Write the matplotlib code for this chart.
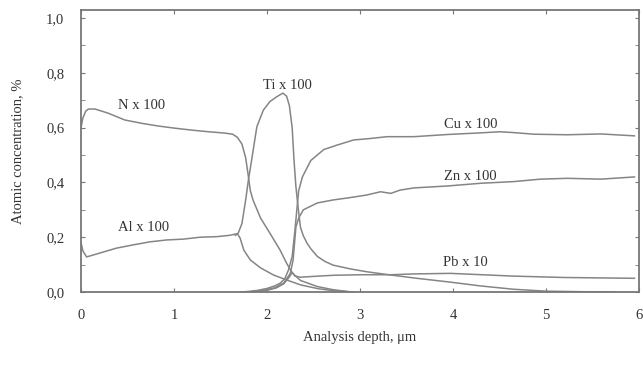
import matplotlib
matplotlib.use("Agg")
import matplotlib.pyplot as plt
from matplotlib.ticker import MultipleLocator, FuncFormatter

# Depth profiles (x in um, y in %)
n_x = [0, 0.02, 0.05, 0.08, 0.15, 0.29, 0.47, 0.65, 0.83, 1.01, 1.19, 1.37, 1.55, 1.63, 1.68,
       1.73, 1.77, 1.8, 1.82, 1.85, 1.93, 2.03, 2.14, 2.21, 2.27, 2.36, 2.54, 2.7, 2.9]
n_y = [0.6, 0.635, 0.66, 0.668, 0.668, 0.653, 0.628, 0.616, 0.606, 0.598, 0.591, 0.585, 0.58, 0.576, 0.565,
       0.54, 0.49, 0.42, 0.37, 0.335, 0.27, 0.215, 0.153, 0.105, 0.07, 0.042, 0.02, 0.009, 0.0]

al_x = [0, 0.02, 0.06, 0.2, 0.38, 0.56, 0.74, 0.92, 1.1, 1.28, 1.46, 1.6, 1.68, 1.71, 1.75,
        1.82, 1.93, 2.07, 2.21, 2.36, 2.55, 2.71, 2.93]
al_y = [0.18, 0.15, 0.128, 0.142, 0.16, 0.172, 0.183, 0.19, 0.193, 0.2, 0.202, 0.207, 0.213, 0.197, 0.153,
        0.117, 0.088, 0.062, 0.044, 0.026, 0.012, 0.005, 0.0]

ti_x = [1.66, 1.69, 1.73, 1.77, 1.8, 1.84, 1.89, 1.96, 2.03, 2.1, 2.17, 2.21, 2.24, 2.27, 2.29,
        2.31, 2.34, 2.36, 2.39, 2.43, 2.47, 2.54, 2.62, 2.71, 2.9, 3.07, 3.33, 3.61, 3.97, 4.3,
        4.65, 5.0, 5.4, 5.74]
ti_y = [0.207, 0.215, 0.25, 0.336, 0.41, 0.494, 0.603, 0.664, 0.695, 0.712, 0.726, 0.715, 0.68, 0.6, 0.48,
        0.385, 0.29, 0.235, 0.205, 0.178, 0.158, 0.13, 0.112, 0.098, 0.084, 0.074, 0.062, 0.05, 0.036, 0.022,
        0.01, 0.003, 0.001, 0.0]

cu_x = [1.72, 1.8, 1.9, 2.0, 2.08, 2.14, 2.19, 2.23, 2.27, 2.3, 2.32, 2.34, 2.38, 2.47, 2.61,
        2.75, 2.93, 3.1, 3.29, 3.58, 3.94, 4.3, 4.5, 4.65, 4.87, 5.23, 5.59, 5.95]
cu_y = [0.0, 0.002, 0.006, 0.013, 0.022, 0.032, 0.048, 0.08, 0.13, 0.226, 0.3, 0.37, 0.42, 0.48, 0.52,
        0.536, 0.555, 0.56, 0.567, 0.567, 0.575, 0.581, 0.585, 0.582, 0.576, 0.574, 0.577, 0.57]

zn_x = [1.8, 1.95, 2.08, 2.18, 2.25, 2.28, 2.31, 2.34, 2.39, 2.54, 2.71, 2.9, 3.07, 3.22, 3.33,
        3.43, 3.58, 3.94, 4.3, 4.65, 4.94, 5.23, 5.59, 5.95]
zn_y = [0.0, 0.006, 0.015, 0.033, 0.068, 0.117, 0.237, 0.27, 0.3, 0.325, 0.336, 0.345, 0.354, 0.366, 0.36,
        0.372, 0.38, 0.387, 0.397, 0.403, 0.412, 0.415, 0.412, 0.42]

pb_x = [1.85, 2.0, 2.1, 2.18, 2.24, 2.27, 2.3, 2.36, 2.5, 2.71, 3.0, 3.33, 3.58, 3.97, 4.11,
        4.65, 5.19, 5.95]
pb_y = [0.0, 0.006, 0.015, 0.03, 0.055, 0.072, 0.058, 0.054, 0.057, 0.061, 0.063, 0.063, 0.066, 0.068, 0.066,
        0.058, 0.053, 0.05]

labels = ["N x 100", "Al x 100", "Ti x 100", "Cu x 100", "Zn x 100", "Pb x 10"]
label_pos = [(0.65, 0.68), (0.67, 0.234), (2.22, 0.755), (4.19, 0.613), (4.19, 0.42), (4.13, 0.106)]

plt.rcParams['font.family'] = ['Liberation Serif', 'DejaVu Serif']

fig = plt.figure(figsize=(6.43, 3.65), dpi=100)
ax = fig.add_axes([0.126, 0.2, 0.868, 0.773])

line_col = '#858585'
for xs, ys in [(n_x, n_y), (al_x, al_y), (ti_x, ti_y), (cu_x, cu_y), (zn_x, zn_y), (pb_x, pb_y)]:
    ax.plot(xs, ys, color=line_col, lw=1.1)

for txt, (tx, ty) in zip(labels, label_pos):
    ax.text(tx, ty, txt, ha='center', va='center', fontsize=10.5, color='#333333')

ax.set_xlim(0, 6)
ax.set_ylim(0, 1.03)
ax.xaxis.set_major_locator(MultipleLocator(1))
ax.yaxis.set_major_locator(MultipleLocator(0.2))
ax.yaxis.set_minor_locator(MultipleLocator(0.1))
ax.yaxis.set_major_formatter(FuncFormatter(lambda v, p: f"{v:.1f}".replace('.', ',')))
ax.tick_params(which='both', direction='in', top=True, right=True, color='#777777')
ax.tick_params(which='major', length=3, labelsize=10.5, labelcolor='#333333')
ax.tick_params(axis='x', which='major', pad=12)
ax.tick_params(axis='y', which='major', pad=12)
ax.tick_params(which='minor', length=3)
for s in ax.spines.values():
    s.set_color('#777777')
    s.set_linewidth(1.3)

ax.set_xlabel("Analysis depth, μm", fontsize=10.5, color='#333333', labelpad=7)
ax.set_ylabel("Atomic concentration, %", fontsize=10.5, color='#333333', labelpad=16)

fig.savefig("out.png", dpi=100)
